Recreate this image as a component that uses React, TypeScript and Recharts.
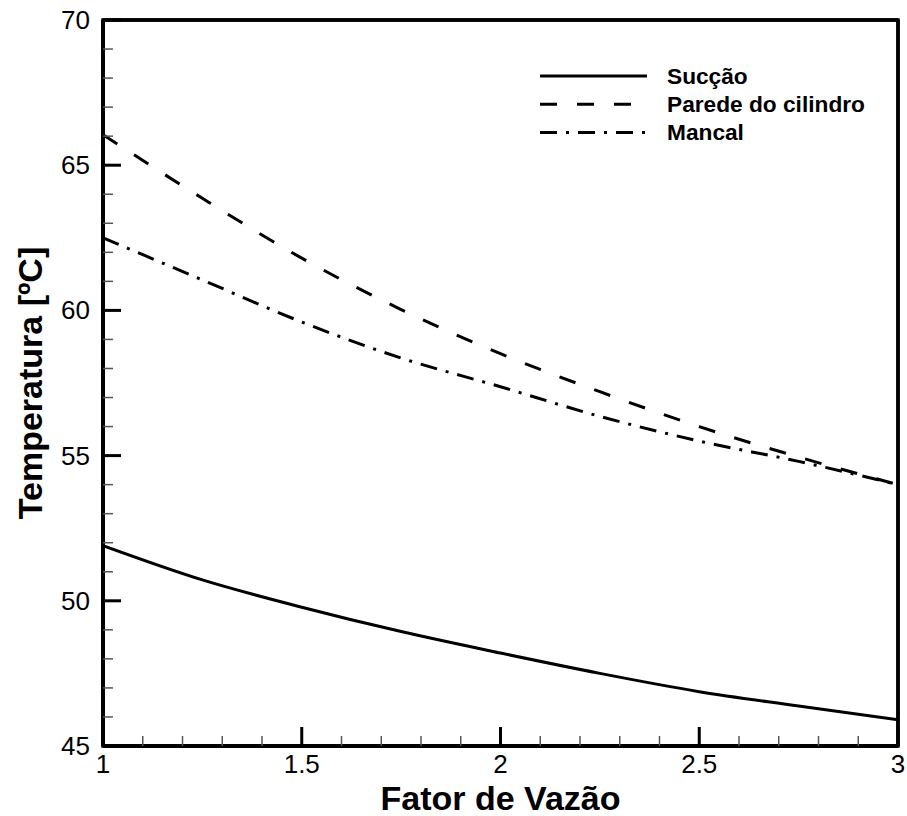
import React from 'react';
import { LineChart, Line, XAxis, YAxis, ReferenceArea, Customized } from 'recharts';

const fatorVazao = [1, 1.25, 1.5, 1.75, 2, 2.25, 2.5, 2.75, 3];
const succao = [51.9, 50.72, 49.78, 48.94, 48.2, 47.5, 46.87, 46.38, 45.9];
const paredeCilindro = [66.05, 63.86, 61.8, 60.03, 58.51, 57.2, 56.0, 54.95, 54.0];
const mancal = [62.5, 61.05, 59.6, 58.36, 57.37, 56.35, 55.5, 54.8, 54.0];

const xTicks = [1, 1.1, 1.2, 1.3, 1.4, 1.5, 1.6, 1.7, 1.8, 1.9, 2, 2.1, 2.2, 2.3, 2.4, 2.5, 2.6, 2.7, 2.8, 2.9, 3];
const yTicks = [45, 46, 47, 48, 49, 50, 51, 52, 53, 54, 55, 56, 57, 58, 59, 60, 61, 62, 63, 64, 65, 66, 67, 68, 69, 70];
const xMajor = [1, 1.5, 2, 2.5, 3];
const yMajor = [45, 50, 55, 60, 65, 70];
const xDomain = [1, 3];
const yDomain = [45, 70];

const seriesNames = ['Sucção', 'Parede do cilindro', 'Mancal'];
const seriesDash = ['', '17 20', '17 9 3 9'];

const data = fatorVazao.map((x, i) => ({
  x,
  succao: succao[i],
  parede: paredeCilindro[i],
  mancal: mancal[i],
}));

const FONT = "Arial, 'Liberation Sans', sans-serif";
// tickSize + tickMargin used on both axes (offset of the tick props from the axis line)
const TICK_OFFSET = 2;

const isMajor = (v: number, majors: number[]) => majors.some((m) => Math.abs(m - v) < 1e-6);

const YTick = (props: any) => {
  const { x, y, payload } = props;
  const ax = x + TICK_OFFSET;
  const major = isMajor(payload.value, yMajor);
  return (
    <g>
      <line x1={ax} x2={ax + (major ? 18 : 10)} y1={y} y2={y} stroke={major ? '#000' : '#555'} strokeWidth={major ? 3 : 1.5} />
      {major && (
        <text x={ax - 13} y={y} textAnchor="end" dominantBaseline="central" fontSize={26} fontFamily={FONT} fill="#000">
          {payload.value}
        </text>
      )}
    </g>
  );
};

const XTick = (props: any) => {
  const { x, y, payload } = props;
  const ay = y - TICK_OFFSET;
  const major = isMajor(payload.value, xMajor);
  return (
    <g>
      <line x1={x} x2={x} y1={ay} y2={ay - (major ? 19 : 10)} stroke={major ? '#000' : '#555'} strokeWidth={major ? 3 : 1.5} />
      {major && (
        <text x={x} y={ay + 27} textAnchor="middle" fontSize={26} fontFamily={FONT} fill="#000">
          {payload.value}
        </text>
      )}
    </g>
  );
};

const Decorations = () => (
  <g>
    <text x={500.5} y={809.5} textAnchor="middle" fontSize={34} fontWeight="bold" fontFamily={FONT} fill="#000">
      Fator de Vazão
    </text>
    <text transform="translate(42,383) rotate(-90)" textAnchor="middle" fontSize={34} fontWeight="bold" fontFamily={FONT} fill="#000">
      Temperatura [ºC]
    </text>
    {seriesNames.map((name, i) => (
      <g key={name}>
        <line x1={540} x2={647} y1={76 + i * 28.3} y2={76 + i * 28.3} stroke="#000" strokeWidth={3} strokeDasharray={seriesDash[i] || undefined} />
        <text x={667} y={83.5 + i * 28.3} fontSize={22.7} fontWeight="bold" fontFamily={FONT} fill="#000">
          {name}
        </text>
      </g>
    ))}
  </g>
);

export default function App() {
  return (
    <div style={{ position: 'absolute', left: 0, top: 0, background: '#fff' }}>
      <LineChart width={907} height={816} data={data} margin={{ top: 19, right: 8, bottom: 69, left: 0 }}>
        <XAxis
          dataKey="x"
          type="number"
          domain={xDomain}
          ticks={xTicks}
          interval={0}
          height={1}
          tickSize={1}
          tickMargin={1}
          tickLine={false}
          stroke="#000"
          strokeWidth={4}
          axisLine={{ stroke: '#000', strokeWidth: 4 }}
          tick={<XTick />}
          allowDataOverflow
        />
        <XAxis xAxisId="top" orientation="top" dataKey="x" type="number" domain={xDomain} height={1} tick={false} tickLine={false} stroke="#000" strokeWidth={3.5} axisLine={{ stroke: '#000', strokeWidth: 3.5 }} />
        <YAxis
          type="number"
          domain={yDomain}
          ticks={yTicks}
          interval={0}
          width={103}
          tickSize={1}
          tickMargin={1}
          tickLine={false}
          stroke="#000"
          strokeWidth={4}
          axisLine={{ stroke: '#000', strokeWidth: 4 }}
          tick={<YTick />}
          allowDataOverflow
        />
        <YAxis yAxisId="right" orientation="right" type="number" domain={yDomain} width={1} tick={false} tickLine={false} stroke="#000" strokeWidth={3.5} axisLine={{ stroke: '#000', strokeWidth: 3.5 }} />
        <ReferenceArea x1={xDomain[0]} x2={xDomain[1]} y1={yDomain[0]} y2={yDomain[1]} fill="none" fillOpacity={0} stroke="#000" strokeWidth={3.5} strokeOpacity={1} ifOverflow="visible" />
        <Line dataKey="succao" name={seriesNames[0]} type="monotone" stroke="#000" strokeWidth={3} dot={false} isAnimationActive={false} />
        <Line dataKey="parede" name={seriesNames[1]} type="monotone" stroke="#000" strokeWidth={3} strokeDasharray={seriesDash[1]} dot={false} isAnimationActive={false} />
        <Line dataKey="mancal" name={seriesNames[2]} type="monotone" stroke="#000" strokeWidth={3} strokeDasharray={seriesDash[2]} dot={false} isAnimationActive={false} />
        <Customized component={Decorations} />
      </LineChart>
    </div>
  );
}
